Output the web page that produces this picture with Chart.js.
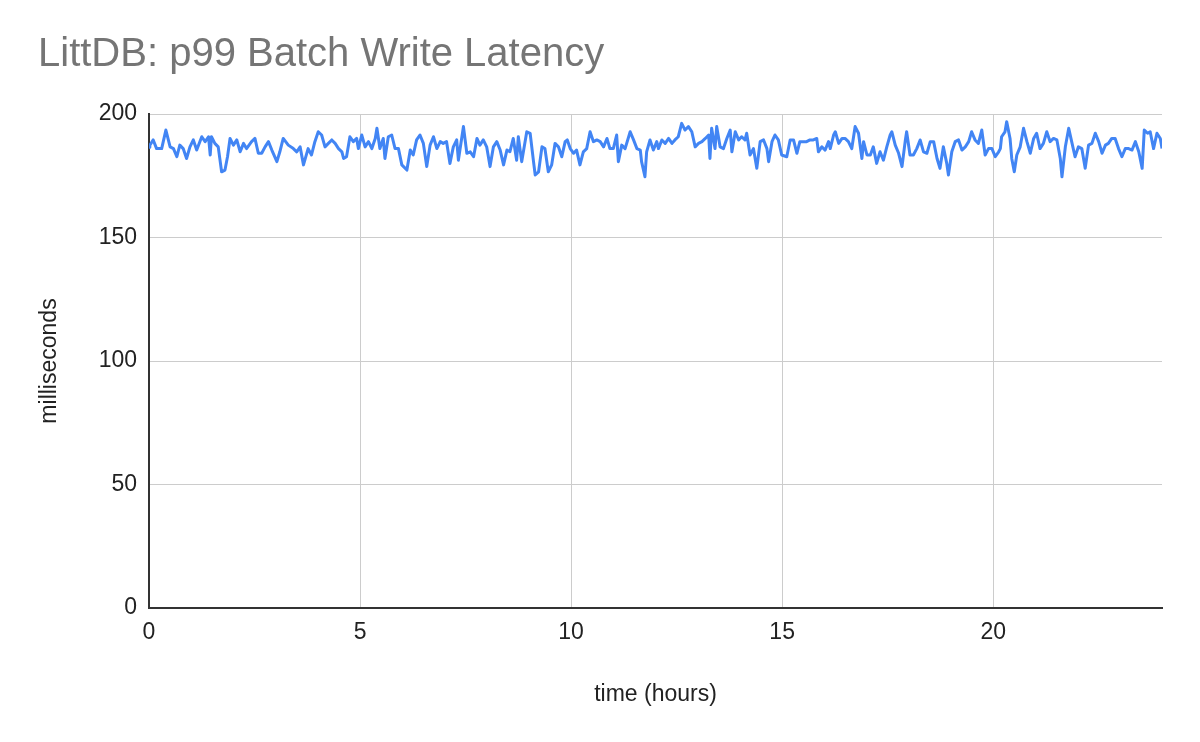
<!DOCTYPE html>
<html>
<head>
<meta charset="utf-8">
<script src="https://cdn.jsdelivr.net/npm/chart.js@4/dist/chart.umd.min.js"></script>
<style>
html,body{margin:0;padding:0;background:#fff;}
#wrap{width:1200px;height:742px;}
</style>
</head>
<body>
<div id="wrap"><canvas id="c" width="1200" height="742"></canvas></div>
<script>
const chartTitle = "LittDB: p99 Batch Write Latency";
const xAxisTitle = "time (hours)";
const yAxisTitle = "milliseconds";
const xTicks = [0, 5, 10, 15, 20];
const yTicks = [0, 50, 100, 150, 200];

const hours = [
0.00,0.02,0.10,0.18,0.30,0.40,0.50,0.58,0.66,0.73,0.81,0.89,0.97,1.05,1.13,1.25,1.33,1.41,1.45,1.48,1.56,1.64,1.72,1.80,1.86,1.92,2.00,2.08,2.16,2.24,2.31,2.43,2.51,2.59,2.67,2.75,2.83,2.91,3.03,3.10,3.18,3.30,3.42,3.50,3.58,3.66,3.77,3.85,3.93,4.01,
4.09,4.17,4.25,4.33,4.41,4.49,4.57,4.61,4.68,4.76,4.84,4.92,4.96,5.04,5.12,5.20,5.28,5.36,5.40,5.47,5.55,5.59,5.67,5.75,5.83,5.91,5.99,6.11,6.19,6.26,6.34,6.42,6.50,6.58,6.66,6.74,6.82,6.90,6.97,7.05,7.13,7.21,7.29,7.33,7.45,7.53,7.61,7.69,7.77,7.84,7.92,8.00,
8.08,8.16,8.24,8.32,8.40,8.48,8.55,8.63,8.71,8.75,8.83,8.95,9.03,9.11,9.15,9.23,9.31,9.38,9.46,9.54,9.62,9.70,9.78,9.86,9.91,9.98,10.06,10.13,10.21,10.29,10.37,10.45,10.53,10.61,10.69,10.77,10.85,10.92,11.00,11.08,11.12,11.20,11.28,11.40,11.48,11.56,11.64,11.67,11.75,11.79,11.87,11.95,12.03,
12.07,12.15,12.23,12.31,12.39,12.46,12.54,12.62,12.70,12.78,12.86,12.94,13.02,13.10,13.18,13.26,13.29,13.33,13.41,13.45,13.53,13.61,13.69,13.77,13.81,13.89,13.97,14.04,14.12,14.16,14.24,14.32,14.40,14.48,14.56,14.64,14.68,14.76,14.83,14.91,14.99,15.11,15.19,15.27,15.35,15.42,15.50,15.58,15.66,15.74,15.82,15.86,15.94,16.02,16.10,
16.14,16.22,16.26,16.34,16.42,16.49,16.57,16.65,16.73,16.81,16.89,16.93,17.01,17.09,17.16,17.24,17.32,17.40,17.48,17.56,17.60,17.68,17.76,17.84,17.92,17.95,18.03,18.11,18.19,18.27,18.35,18.43,18.51,18.59,18.67,18.74,18.82,18.90,18.94,19.02,19.10,19.18,19.26,19.34,19.42,19.49,19.57,19.65,19.73,19.81,19.89,19.97,20.05,20.13,
20.17,20.20,20.28,20.32,20.40,20.44,20.50,20.56,20.64,20.72,20.80,20.88,20.96,21.03,21.11,21.19,21.27,21.35,21.43,21.51,21.59,21.63,21.71,21.79,21.86,21.94,22.02,22.10,22.18,22.26,22.34,22.42,22.50,22.58,22.66,22.73,22.81,22.89,22.97,23.05,23.13,23.21,23.29,23.37,23.45,23.53,23.58,23.66,23.72,23.80,23.88,23.96,24.00
];

const latency = [
186.5,187.4,189.5,186.0,186.0,193.5,186.7,186.0,182.7,187.4,186.0,182.0,186.7,189.5,185.4,190.8,188.8,190.8,183.4,190.8,188.1,186.7,176.6,177.3,182.7,190.1,187.4,189.5,184.7,188.1,186.0,188.8,190.1,184.1,184.1,186.7,188.8,185.4,180.7,184.7,190.1,187.4,186.0,184.7,186.7,179.4,186.0,183.4,188.8,192.8,
191.5,186.7,188.1,189.5,188.1,186.0,184.7,182.0,182.7,190.8,188.8,190.1,186.0,191.5,186.7,188.8,186.0,190.1,194.2,186.0,190.1,182.0,190.8,191.5,186.0,186.0,179.4,177.3,185.4,183.4,189.5,191.5,188.1,178.7,187.4,190.8,186.0,188.8,188.1,188.8,180.0,186.7,189.5,181.3,194.9,184.1,184.7,182.7,190.1,187.4,189.5,186.7,
178.7,186.7,188.8,185.4,179.4,185.4,184.7,190.1,181.3,190.8,180.7,192.8,192.2,180.7,175.3,176.6,186.7,186.0,176.6,179.4,188.1,186.7,182.7,188.8,189.5,186.0,184.1,185.4,179.4,184.7,186.0,192.8,188.8,189.5,188.8,186.7,190.1,186.0,186.0,191.5,180.7,187.4,186.0,192.8,189.5,186.0,185.4,180.7,174.6,184.7,189.5,185.4,188.8,
186.0,189.5,188.1,190.1,188.1,189.5,190.8,196.2,193.5,194.9,192.8,186.7,188.1,188.8,190.1,191.5,182.0,194.2,186.0,194.9,186.7,186.0,190.1,193.5,184.7,192.8,189.5,190.8,189.5,192.2,183.4,186.0,178.0,188.8,189.5,186.0,180.7,188.8,191.5,189.5,183.4,182.7,189.5,189.5,184.1,188.8,188.8,188.8,189.5,189.5,190.1,184.7,186.7,185.4,188.8,
186.0,191.5,192.8,188.1,190.1,190.1,188.8,186.0,194.9,192.2,182.0,188.8,183.4,183.4,186.7,180.0,184.7,181.3,186.7,191.5,192.8,187.4,184.1,178.7,189.5,192.8,183.4,183.4,186.0,189.5,184.7,184.1,188.8,188.8,182.0,178.0,186.7,180.0,175.3,184.7,188.8,189.5,185.4,186.7,188.8,192.8,189.5,188.1,193.5,183.4,186.0,186.0,182.7,184.7,
186.0,190.8,192.8,196.9,190.1,182.0,176.6,183.4,186.7,194.2,188.8,184.1,190.1,192.2,186.0,188.1,192.8,188.8,190.1,189.5,182.0,174.6,186.7,194.2,188.8,182.7,186.7,186.0,178.0,187.4,188.1,192.2,188.8,184.1,187.4,188.1,190.1,190.1,186.0,182.7,186.0,186.0,185.4,188.8,184.7,178.0,193.5,192.2,192.8,186.0,192.2,190.1,186.0
];

const points = hours.map((h, i) => ({ x: h, y: latency[i] }));
const FONT = "'Liberation Sans', Arial, Helvetica, sans-serif";

new Chart(document.getElementById('c'), {
  type: 'line',
  data: {
    datasets: [{
      data: points,
      borderColor: '#4285F4',
      borderWidth: 3,
      borderJoinStyle: 'round',
      pointRadius: 0,
      tension: 0,
      fill: false
    }]
  },
  options: {
    responsive: false,
    animation: false,
    layout: { padding: { left: 38, right: 38, top: 0, bottom: 0 } },
    plugins: {
      legend: { display: false },
      tooltip: { enabled: false },
      title: {
        display: true,
        text: chartTitle,
        align: 'start',
        color: '#757575',
        font: { family: FONT, size: 40, weight: 'normal' },
        padding: { top: 31, bottom: 35 }
      }
    },
    scales: {
      x: {
        type: 'linear',
        min: 0,
        max: 24,
        afterBuildTicks: (s) => { s.ticks = xTicks.map(v => ({ value: v })); },
        afterFit: (s) => { s.height = 134; },
        ticks: { color: '#222', font: { family: FONT, size: 23 }, padding: 11, maxRotation: 0 },
        grid: { color: '#cccccc', lineWidth: 1, drawTicks: false },
        border: { color: '#333333', width: 2 },
        title: { display: true, text: xAxisTitle, color: '#222', font: { family: FONT, size: 23 }, padding: { top: 0, bottom: 34 } }
      },
      y: {
        min: 0,
        max: 200,
        afterBuildTicks: (s) => { s.ticks = yTicks.map(v => ({ value: v })); },
        afterFit: (s) => { s.width = 111; },
        ticks: { color: '#222', font: { family: FONT, size: 23 }, padding: 12 },
        grid: { color: '#cccccc', lineWidth: 1, drawTicks: false },
        border: { color: '#333333', width: 2 },
        title: { display: true, text: yAxisTitle, color: '#222', font: { family: FONT, size: 23, lineHeight: 1 }, padding: { top: 0, bottom: 0 } }
      }
    }
  }
});
</script>
</body>
</html>
